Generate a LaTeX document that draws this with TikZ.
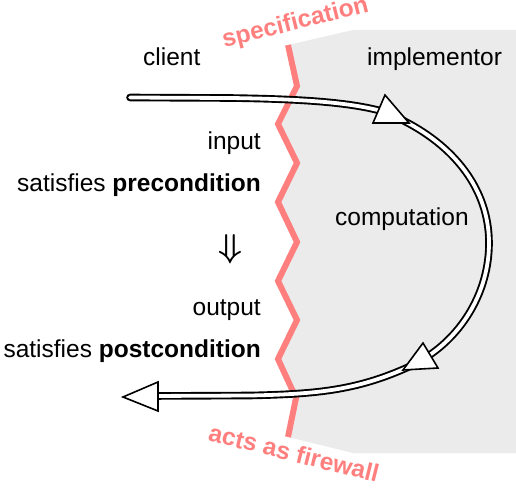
\documentclass[tikz,border=0pt]{standalone}
\usepackage{fontspec}
\usepackage{graphicx}
\setmainfont{Liberation Sans}
\definecolor{salmon}{HTML}{FF7F7F}
\definecolor{implgray}{HTML}{EBEBEB}
\begin{document}
\begin{tikzpicture}[x=1pt,y=-1pt,
  lbl/.style={inner sep=0pt,font=\fontsize{24.5}{28}\selectfont},
  redlbl/.style={lbl,text=salmon,font=\fontsize{24.5}{28}\selectfont\bfseries},
  wall/.style={draw=salmon,line width=6pt,line join=miter},
  flow/.style={draw=black,line width=1.9pt,double=white,double distance=3.8pt},
  tip/.style={draw=black,fill=white,line width=1.6pt,line join=miter}]
\useasboundingbox (0,0) rectangle (516,487);
% zigzag coordinates
\coordinate (z0) at (288,45);
\coordinate (z1) at (297,86);
\coordinate (z2) at (278,124);
\coordinate (z3) at (297,163);
\coordinate (z4) at (278,202);
\coordinate (z5) at (297,242);
\coordinate (z6) at (278,281);
\coordinate (z7) at (297,320);
\coordinate (z8) at (278,359);
\coordinate (z9) at (296,398);
\coordinate (z10) at (288,437);
% implementor area
\fill[implgray] (z0) -- (353,30) -- (516,30) -- (516,453) -- (353,453) -- (z10)
  -- (z9) -- (z8) -- (z7) -- (z6) -- (z5) -- (z4) -- (z3) -- (z2) -- (z1) -- cycle;
\draw[wall] (z0) -- (z1) -- (z2) -- (z3) -- (z4) -- (z5) -- (z6) -- (z7) -- (z8) -- (z9) -- (z10);
% flow path
\coordinate (s) at (130,97.5);
\coordinate (a1) at (385,112);
\coordinate (b1) at (398,118);
\coordinate (r) at (489,243);
\coordinate (a2) at (425,358);
\coordinate (b2) at (415,364);
\coordinate (e) at (150,396);
\draw[flow,line cap=round] (s) -- (230,98) .. controls (300,99) and (350,102) .. (a1);
\draw[flow] (b1) .. controls (455,145) and (489,190) .. (r) .. controls (489,292) and (462,335) .. (a2);
\draw[flow] (b2) .. controls (360,390) and (320,394) .. (250,395.5) -- (e);
% arrow heads
\coordinate (t1) at (409,123);
\coordinate (t2) at (403,370);
\coordinate (t3) at (123,397);
\draw[tip] (t1) -- (385,95) -- (373,123) -- cycle;
\draw[tip] (t2) -- (423,343) -- (438,368) -- cycle;
\draw[tip] (t3) -- (158,382) -- (158,411) -- cycle;
% labels
\node[lbl,anchor=base west] (client) at (143,66) {client};
\node[lbl,anchor=base west] (impl) at (367,65.5) {implementor};
\node[lbl,anchor=base east] (input) at (261,149) {input};
\node[lbl,anchor=base east] (pre) at (261,191) {satisfies \textbf{precondition}};
\node[lbl,anchor=center] (impl2) at (230,249) {\scalebox{3.4}[3.3]{\fontsize{10}{12}\selectfont\boldmath$\Downarrow$}};
\node[lbl,anchor=base east] (output) at (261,315) {output};
\node[lbl,anchor=base east] (post) at (261,357) {satisfies \textbf{postcondition}};
\node[lbl,anchor=base west] (comp) at (335,225.5) {computation};
\node[redlbl,anchor=base,rotate=14] (spec) at (297,29.5) {specification};
\node[redlbl,anchor=base,rotate=-14] (fire) at (292,461.5) {acts as firewall};
\end{tikzpicture}
\end{document}
